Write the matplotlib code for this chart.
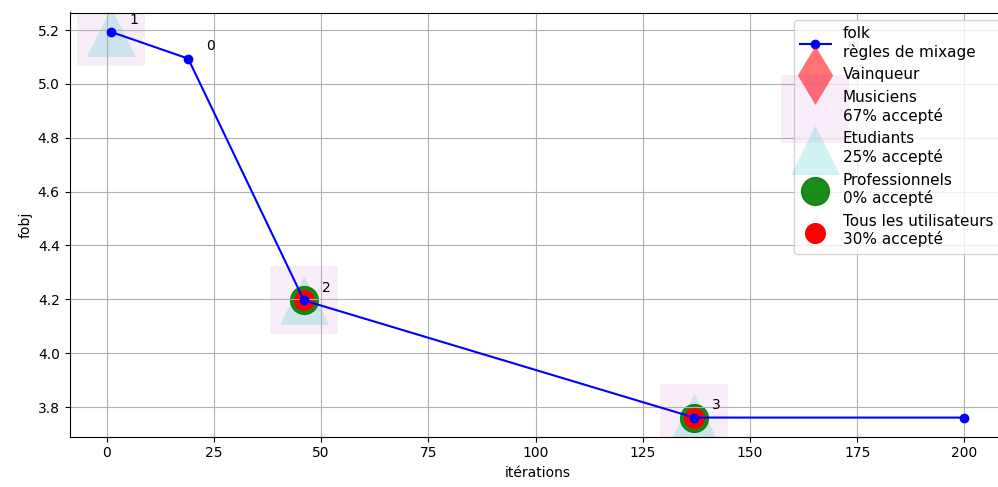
import matplotlib
matplotlib.use("Agg")
import matplotlib.pyplot as plt

# objective value along the iterations
iters = [1, 19, 46, 137, 200]
fobj = [5.193, 5.094, 4.196, 3.761, 3.761]
point_labels = ["1", "0", "2", "3"]

# groups of users and the iterations they voted on
musiciens_x = [1, 46, 137]
musiciens_y = [5.193, 4.196, 3.761]
etudiants_x = [1, 46, 137]
etudiants_y = [5.193, 4.196, 3.761]
pros_x = [46, 137]
pros_y = [4.196, 3.761]
tous_x = [46, 137]
tous_y = [4.196, 3.761]
vainqueur_x = []
vainqueur_y = []

W, H = 998, 487
fig = plt.figure(figsize=(W / 100, H / 100), dpi=100)
left, right, top, bottom = 69.5, 1007, 12.5, 436.7
ax = fig.add_axes([left / W, (H - bottom) / H, (right - left) / W, (bottom - top) / H])

ax.plot(iters, fobj, "o-", color="blue", label="folk\nrègles de mixage")
ax.scatter(vainqueur_x, vainqueur_y, s=900, marker="d", color="red", alpha=0.55,
           linewidths=0, label="Vainqueur")
ax.scatter(musiciens_x, musiciens_y, s=2400, marker="s", color="m", alpha=0.07,
           linewidths=0, label="Musiciens\n67% accepté")
ax.scatter(etudiants_x, etudiants_y, s=1250, marker="^", color="c", alpha=0.18,
           linewidths=0, label="Etudiants\n25% accepté")
ax.scatter(pros_x, pros_y, s=400, marker="o", color="green", alpha=0.9,
           label="Professionnels\n0% accepté")
ax.scatter(tous_x, tous_y, s=200, marker="o", color="red",
           label="Tous les utilisateurs\n30% accepté")

for x, y, lab in zip(iters, fobj, point_labels):
    ax.annotate(lab, (x, y), xytext=(13, 6), textcoords="offset points")

ax.set_xlim(-8.67, 209.95)
ax.set_ylim(3.69, 5.265)
ax.grid(True)
ax.set_xlabel("itérations")
ax.set_ylabel("fobj")
ax.legend(loc="upper right", fontsize=11)

fig.savefig("out.png", dpi=100)
